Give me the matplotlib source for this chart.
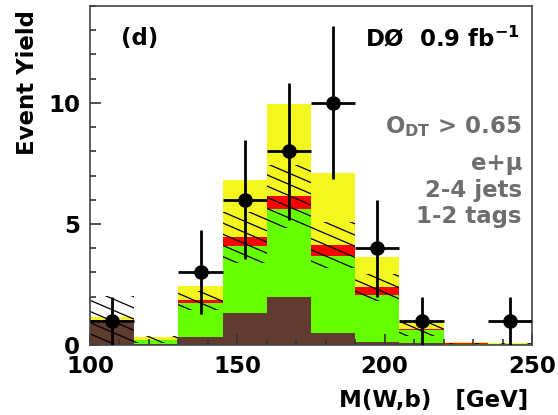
"""
Stacked M(W,b) yield with data points and background uncertainty band
"""

import numpy as np
import matplotlib.pyplot as plt
from matplotlib.path import Path
from matplotlib.patches import PathPatch
from matplotlib.collections import LineCollection
from matplotlib.ticker import MultipleLocator

# bin edges of M(W,b) [GeV]
edges = [100, 115, 130, 145, 160, 175, 190, 205, 220, 235, 250]

# stacked components per bin (not cumulative), bottom to top
brown = [0.92, 0.05, 0.34, 1.31, 2.00, 0.48, 0.12, 0.08, 0.02, 0.02]
green = [0.08, 0.15, 1.38, 2.79, 3.60, 3.20, 1.95, 0.54, 0.04, 0.03]
red = [0.03, 0.02, 0.13, 0.35, 0.55, 0.45, 0.31, 0.04, 0.01, 0.01]
yellow = [0.14, 0.12, 0.59, 2.37, 3.81, 2.99, 1.25, 0.24, 0.05, 0.04]

# background uncertainty (hatched band around brown+green+red)
bkg_err = [1.0, 0.15, 0.40, 1.05, 1.30, 0.95, 0.55, 0.30, 0.03, 0.03]

# observed data
obs_mass = [107.5, 137.5, 152.5, 167.5, 182.5, 197.5, 212.5, 242.5]
obs_count = [1, 3, 6, 8, 10, 4, 1, 1]
obs_err = [1.0, 1.73, 2.45, 2.83, 3.16, 2.0, 1.0, 1.0]

plt.rcParams['font.family'] = ['DejaVu Sans']
plt.rcParams['font.weight'] = 'bold'
plt.rcParams['mathtext.fontset'] = 'custom'
plt.rcParams['mathtext.rm'] = 'DejaVu Sans:bold'
plt.rcParams['mathtext.it'] = 'DejaVu Sans:bold'
plt.rcParams['mathtext.bf'] = 'DejaVu Sans:bold'

fig = plt.figure(figsize=(5.58, 4.15), dpi=100)
ax = fig.add_axes([90 / 558, 1 - 345 / 415, 442 / 558, 339 / 415])

left = np.array(edges[:-1], dtype=float)
width = np.diff(edges)
bottom = np.zeros(len(left))
for vals, col in [(brown, '#5f3b30'), (green, '#66ff00'), (red, '#ff0000'), (yellow, '#f3f71e')]:
    ax.bar(left, vals, width, bottom=bottom, align='edge', color=col, linewidth=0, zorder=1)
    bottom += np.array(vals)

# hatched band: clip slanted lines to the band rectangles
bkg = np.array(brown) + np.array(green) + np.array(red)
verts, codes = [], []
for l, w, c, e in zip(left, width, bkg, bkg_err):
    lo, hi = max(c - e, 0), c + e
    verts += [(l, lo), (l + w, lo), (l + w, hi), (l, hi), (l, lo)]
    codes += [Path.MOVETO, Path.LINETO, Path.LINETO, Path.LINETO, Path.CLOSEPOLY]
clip = PathPatch(Path(verts, codes), transform=ax.transData, facecolor='none', edgecolor='none')
ax.add_patch(clip)
segs = [[(0, c), (1, c - 0.56)] for c in np.arange(0, 1.6, 0.033)]
lc = LineCollection(segs, transform=ax.transAxes, colors='k', linewidths=0.9, zorder=2)
lc.set_clip_path(clip)
ax.add_collection(lc)

ax.errorbar(obs_mass, obs_count, yerr=obs_err, xerr=width[0] / 2, fmt='o', color='k',
            ms=9.5, elinewidth=2, capsize=0, zorder=5, clip_on=True)

ax.set_xlim(100, 250)
ax.set_ylim(0, 14)
ax.set_xticks([100, 150, 200, 250])
ax.set_yticks([0, 5, 10])
ax.xaxis.set_minor_locator(MultipleLocator(10))
ax.yaxis.set_minor_locator(MultipleLocator(1))
ax.tick_params(which='both', direction='in', colors='#333333', labelcolor='k', width=1.2)
ax.tick_params(which='major', length=8, labelsize=16.5)
ax.tick_params(axis='x', which='major', pad=7)
ax.tick_params(axis='y', which='major', pad=7)
ax.tick_params(which='minor', length=4.5)
for s in ax.spines.values():
    s.set_color('#444444')
    s.set_linewidth(1.2)

fig.text(28 / 558, 1 - 10 / 415, 'Event Yield', rotation=90, ha='center', va='top', fontsize=16.5)
fig.text(528 / 558, 1 - 400 / 415, 'M(W,b)   [GeV]', ha='right', va='center', fontsize=16.5)

fig.text(140 / 558, 1 - 39 / 415, '(d)', ha='center', va='center', fontsize=16.5)
fig.text(520 / 558, 1 - 46 / 415, 'DØ  0.9 fb$^{-1}$', ha='right', va='baseline', fontsize=16.5)

gray = '#6e6e6e'
for txt, base in [('O$_{DT}$ > 0.65', 133), ('e+μ', 170), ('2-4 jets', 197), ('1-2 tags', 223)]:
    fig.text(522 / 558, 1 - base / 415, txt, ha='right', va='baseline', fontsize=16.5, color=gray)

fig.savefig('out.png', dpi=100)
